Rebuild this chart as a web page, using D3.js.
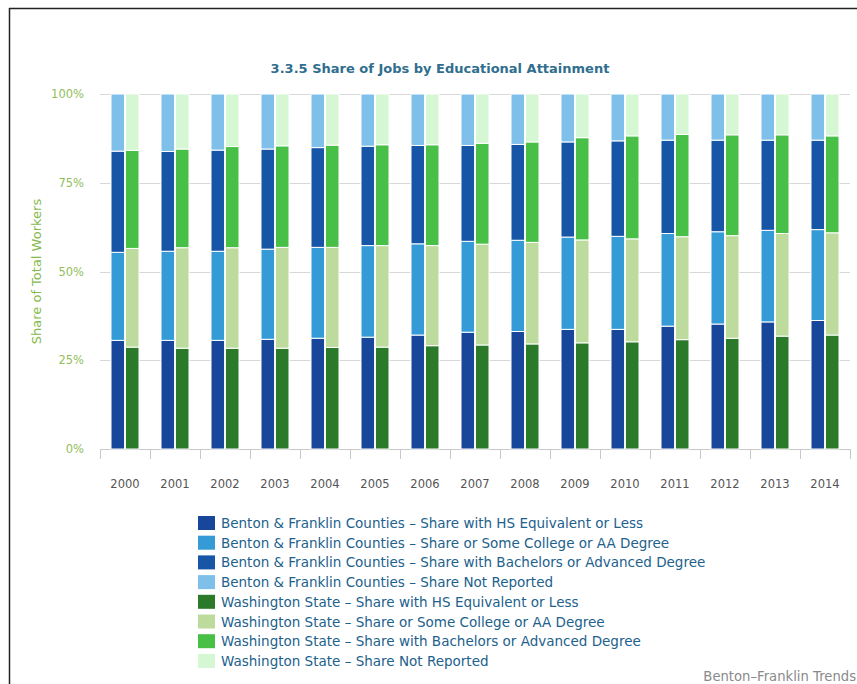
<!DOCTYPE html>
<html>
<head>
<meta charset="utf-8">
<script src="https://cdn.jsdelivr.net/npm/d3@7/dist/d3.min.js"></script>
<style>
  html, body { margin: 0; padding: 0; background: #fff; }
  svg { display: block; font-family: "DejaVu Sans", sans-serif; }
</style>
</head>
<body>
<svg id="chart" width="857" height="684"></svg>
<script>
// Years on the category axis
const years = ["2000","2001","2002","2003","2004","2005","2006","2007","2008","2009","2010","2011","2012","2013","2014"];

// Benton & Franklin Counties shares (%)
const bfHS = [30.6,30.6,30.6,30.9,31.2,31.5,32.1,32.9,33.1,33.7,33.7,34.6,35.2,35.8,36.2];
const bfSC = [24.8,25.1,25.1,25.4,25.6,25.8,25.7,25.6,25.7,26.0,26.2,26.1,26.0,25.8,25.6];
const bfBA = [28.5,28.1,28.5,28.2,28.1,28.0,27.7,27.0,27.0,26.8,26.9,26.3,25.8,25.4,25.2];
const bfNR = [16.1,16.2,15.8,15.5,15.1,14.7,14.5,14.5,14.2,13.5,13.2,13.0,13.0,13.0,13.0];

// Washington State shares (%)
const waHS = [28.7,28.4,28.4,28.4,28.6,28.7,29.1,29.3,29.6,29.9,30.2,30.8,31.2,31.8,32.1];
const waSC = [27.8,28.3,28.3,28.4,28.2,28.6,28.2,28.4,28.6,29.0,29.0,29.0,28.9,28.9,28.8];
const waBA = [27.6,27.8,28.5,28.6,28.8,28.4,28.4,28.4,28.3,28.8,29.0,28.8,28.4,27.8,27.3];
const waNR = [15.9,15.5,14.8,14.6,14.4,14.3,14.3,13.9,13.5,12.3,11.8,11.4,11.5,11.5,11.8];

const yTicks = [0, 25, 50, 75, 100];

const seriesNames = [
  "Benton & Franklin Counties \u2013 Share with HS Equivalent or Less",
  "Benton & Franklin Counties \u2013 Share or Some College or AA Degree",
  "Benton & Franklin Counties \u2013 Share with Bachelors or Advanced Degree",
  "Benton & Franklin Counties \u2013 Share Not Reported",
  "Washington State \u2013 Share with HS Equivalent or Less",
  "Washington State \u2013 Share or Some College or AA Degree",
  "Washington State \u2013 Share with Bachelors or Advanced Degree",
  "Washington State \u2013 Share Not Reported"
];
const seriesColors = ["#17469a","#349bd6","#1756a6","#7ec0ea","#2a7a2a","#bedb9e","#48c048","#d5f7d3"];

const groups = [
  { key: "bf", values: [bfHS, bfSC, bfBA, bfNR], colors: seriesColors.slice(0, 4) },
  { key: "wa", values: [waHS, waSC, waBA, waNR], colors: seriesColors.slice(4, 8) }
];

const svg = d3.select("#chart");

// Frame lines along the top and left edge
svg.append("line").attr("x1", 9).attr("x2", 857).attr("y1", 8.5).attr("y2", 8.5)
  .attr("stroke", "#222").attr("stroke-width", 1.5);
svg.append("line").attr("x1", 9.5).attr("x2", 9.5).attr("y1", 8).attr("y2", 684)
  .attr("stroke", "#222").attr("stroke-width", 1.5);

const plot = { left: 100, right: 850, top: 94, bottom: 449 };

const x0 = d3.scaleBand().domain(years).range([plot.left, plot.right]).padding(0);
const x1 = d3.scaleBand().domain(groups.map(g => g.key))
  .range([11, x0.bandwidth() - 11]).paddingInner(0.06);
const y = d3.scaleLinear().domain([0, 100]).range([plot.bottom, plot.top]);

// Title
svg.append("text")
  .attr("x", 440).attr("y", 73)
  .attr("text-anchor", "middle")
  .attr("font-size", 13).attr("font-weight", "bold")
  .attr("fill", "#2f6e8e")
  .text("3.3.5 Share of Jobs by Educational Attainment");

// Horizontal gridlines
svg.append("g").selectAll("line")
  .data(yTicks.filter(t => t > 0))
  .join("line")
  .attr("x1", plot.left).attr("x2", plot.right)
  .attr("y1", d => Math.round(y(d)) + 0.5).attr("y2", d => Math.round(y(d)) + 0.5)
  .attr("stroke", "#d8d8d8").attr("stroke-width", 1);

// Y axis labels
const yAxis = d3.axisLeft(y).tickValues(yTicks).tickFormat(d => d + "%").tickSize(0).tickPadding(0);
const yg = svg.append("g").attr("transform", `translate(84,0)`).call(yAxis);
yg.select(".domain").remove();
yg.selectAll("text").attr("font-size", 11.5).attr("fill", "#92bd5a")
  .attr("font-family", "DejaVu Sans, sans-serif");

// Y axis title
svg.append("text")
  .attr("transform", `translate(41,${(plot.top + plot.bottom) / 2}) rotate(-90)`)
  .attr("text-anchor", "middle")
  .attr("font-size", 13).attr("fill", "#84b94d")
  .text("Share of Total Workers");

// X axis with ticks at category boundaries
const xAxis = d3.axisBottom(x0).tickSize(0).tickPadding(0);
const xg = svg.append("g").attr("transform", `translate(0,${plot.bottom})`).call(xAxis);
xg.select(".domain").remove();
xg.selectAll("text").attr("font-size", 11.5).attr("fill", "#555")
  .attr("dy", 0).attr("y", 39).attr("font-family", "DejaVu Sans, sans-serif");
svg.append("line").attr("x1", plot.left).attr("x2", plot.right)
  .attr("y1", plot.bottom + 0.5).attr("y2", plot.bottom + 0.5)
  .attr("stroke", "#c8c8c8");
svg.append("g").selectAll("line")
  .data(years.concat(["end"]))
  .join("line")
  .attr("x1", (d, i) => plot.left + i * x0.bandwidth() + 0.5)
  .attr("x2", (d, i) => plot.left + i * x0.bandwidth() + 0.5)
  .attr("y1", plot.bottom).attr("y2", plot.bottom + 10)
  .attr("stroke", "#c8c8c8");

// Stacked bars per region
const keys = [0, 1, 2, 3];
groups.forEach(g => {
  const rows = years.map((yr, i) => {
    const r = { year: yr };
    keys.forEach(k => { r[k] = g.values[k][i]; });
    return r;
  });
  const stacked = d3.stack().keys(keys)(rows);
  svg.append("g").selectAll("g")
    .data(stacked)
    .join("g")
    .attr("fill", (d, i) => g.colors[i])
    .selectAll("rect")
    .data(d => d)
    .join("rect")
    .attr("x", d => x0(d.data.year) + x1(g.key))
    .attr("width", x1.bandwidth())
    .attr("y", d => y(d[1]))
    .attr("height", d => y(d[0]) - y(d[1]))
    .attr("stroke", "#fff").attr("stroke-width", 1);
});

// Legend
const legend = svg.append("g").attr("transform", "translate(198,516)");
const item = legend.selectAll("g")
  .data(seriesNames)
  .join("g")
  .attr("transform", (d, i) => `translate(0,${i * 19.7})`);
item.append("rect")
  .attr("width", 17).attr("height", 14)
  .attr("fill", (d, i) => seriesColors[i]);
item.append("text")
  .attr("x", 23).attr("y", 12)
  .attr("font-size", 13.5).attr("fill", "#21618c")
  .text(d => d);

// Credit line
svg.append("text")
  .attr("x", 856).attr("y", 681)
  .attr("text-anchor", "end")
  .attr("font-size", 13.2).attr("fill", "#8a8a8a")
  .text("Benton\u2013Franklin Trends");
</script>
</body>
</html>
